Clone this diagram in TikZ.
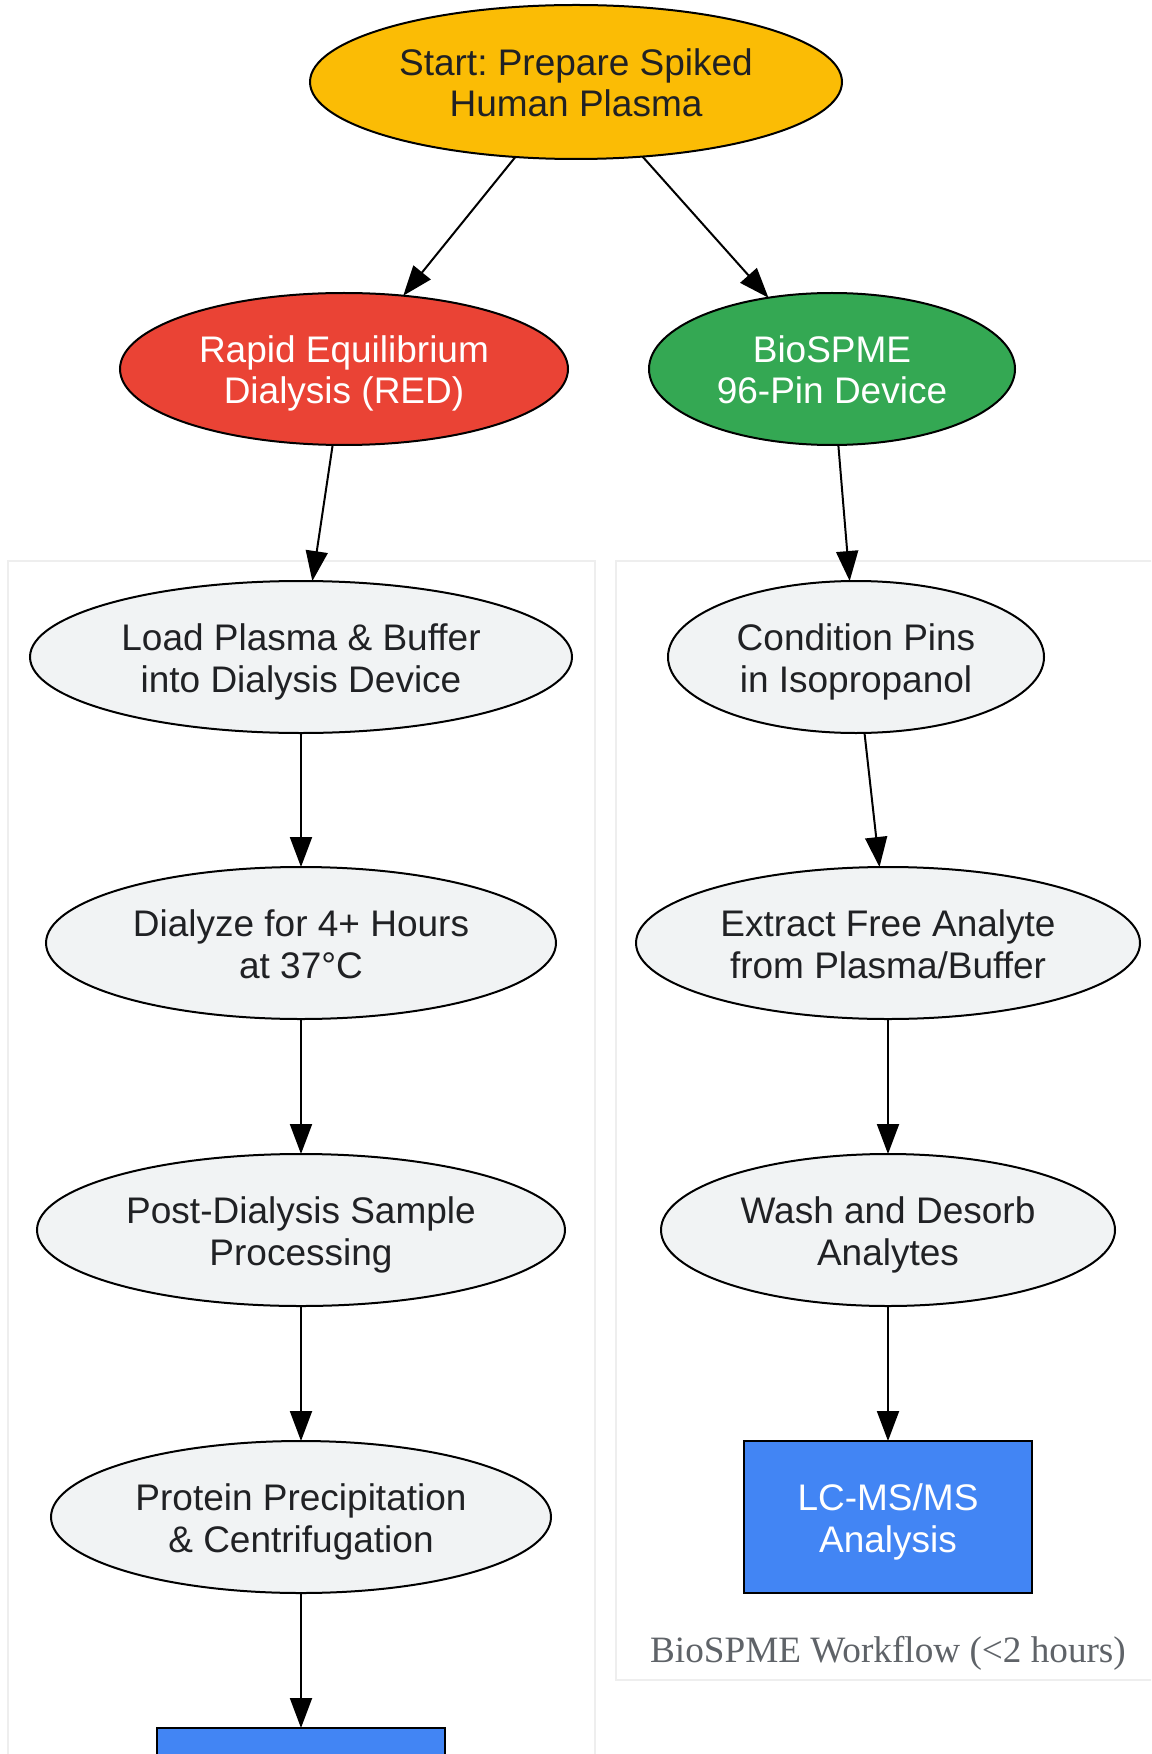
\documentclass[tikz,border=0pt]{standalone}
\usepackage{fontspec}
\setmainfont{Liberation Sans}
\newfontfamily\captionserif{Liberation Serif}
\usepackage{tikz}
\usetikzlibrary{arrows.meta}
\usetikzlibrary{shapes.geometric}
\frenchspacing

\definecolor{startyellow}{HTML}{FBBC05}
\definecolor{redmethod}{HTML}{EA4335}
\definecolor{spmegreen}{HTML}{34A853}
\definecolor{analysisblue}{HTML}{4285F4}
\definecolor{stepgray}{HTML}{F1F3F4}
\definecolor{inkdark}{HTML}{202124}
\definecolor{captiongray}{HTML}{5F6368}
\definecolor{clusterline}{HTML}{EEEEEE}

\tikzset{
    flownode/.style={ellipse, draw=black, line width=1pt, inner sep=0pt, outer sep=0pt,
        align=center, font=\fontsize{18.5}{20.7}\selectfont, text height=38pt, text depth=3pt},
    stepnode/.style={flownode, fill=stepgray, text=inkdark},
    boxnode/.style={rectangle, draw=black, line width=1pt, fill=analysisblue, text=white,
        minimum width=144pt, minimum height=76pt, inner sep=0pt, outer sep=0pt,
        align=center, font=\fontsize{18.5}{20.7}\selectfont, text height=38pt, text depth=3pt},
    cluster/.style={draw=clusterline, line width=1.2pt, fill=white},
    flowarrow/.style={line width=1pt, -{Triangle[length=15pt, width=11pt]}},
}

\begin{document}
\begin{tikzpicture}[x=0.5pt, y=-0.5pt]
    \useasboundingbox (0, 0) rectangle (1151, 1754);
    \clip (0, 0) rectangle (1151, 1754);
    % workflow clusters
    \draw[cluster] (8, 561) rectangle (595, 1800);
    \draw[cluster] (616, 561) rectangle (1175, 1680);
    \node[font=\captionserif\fontsize{18.6}{22}\selectfont, text=captiongray, anchor=base]
        (spmecaption) at (888, 1662) {BioSPME Workflow (<2 hours)};

    \node[flownode, fill=startyellow, text=inkdark, minimum width=266pt, minimum height=77pt]
        (start) at (576, 82) {Start: Prepare Spiked\\Human Plasma};
    \node[flownode, fill=redmethod, text=white, minimum width=224pt, minimum height=76pt]
        (red) at (344, 369) {Rapid Equilibrium\\Dialysis (RED)};
    \node[flownode, fill=spmegreen, text=white, minimum width=183pt, minimum height=76pt]
        (biospme) at (832, 369) {BioSPME\\96-Pin Device};

    % RED branch
    \node[stepnode, minimum width=271pt, minimum height=76pt] (load) at (301, 657)
        {Load Plasma \& Buffer\\into Dialysis Device};
    \node[stepnode, minimum width=255pt, minimum height=76pt] (dialyze) at (301, 943)
        {Dialyze for 4+ Hours\\at 37°C};
    \node[stepnode, minimum width=264pt, minimum height=76pt] (postdialysis) at (301, 1230)
        {Post-Dialysis Sample\\Processing};
    \node[stepnode, minimum width=250pt, minimum height=76pt] (precip) at (301, 1517)
        {Protein Precipitation\\\& Centrifugation};
    \node[boxnode, anchor=north, text height=0pt, text depth=0pt] (redanalysis) at (301, 1728) {};

    % BioSPME branch
    \node[stepnode, minimum width=188pt, minimum height=76pt] (condition) at (856, 657)
        {Condition Pins\\in Isopropanol};
    \node[stepnode, minimum width=252pt, minimum height=76pt] (extract) at (888, 943)
        {Extract Free Analyte\\from Plasma/Buffer};
    \node[stepnode, minimum width=227pt, minimum height=76pt] (wash) at (888, 1230)
        {Wash and Desorb\\Analytes};
    \node[boxnode] (spmeanalysis) at (888, 1517) {LC-MS/MS\\Analysis};

    \draw[flowarrow] (start) -- (red);
    \draw[flowarrow] (start) -- (biospme);
    \draw[flowarrow] (red) -- (load);
    \draw[flowarrow] (load) -- (dialyze);
    \draw[flowarrow] (dialyze) -- (postdialysis);
    \draw[flowarrow] (postdialysis) -- (precip);
    \draw[flowarrow] (precip) -- (redanalysis);
    \draw[flowarrow] (biospme) -- (condition);
    \draw[flowarrow] (condition) -- (extract);
    \draw[flowarrow] (extract) -- (wash);
    \draw[flowarrow] (wash) -- (spmeanalysis);
\end{tikzpicture}
\end{document}
